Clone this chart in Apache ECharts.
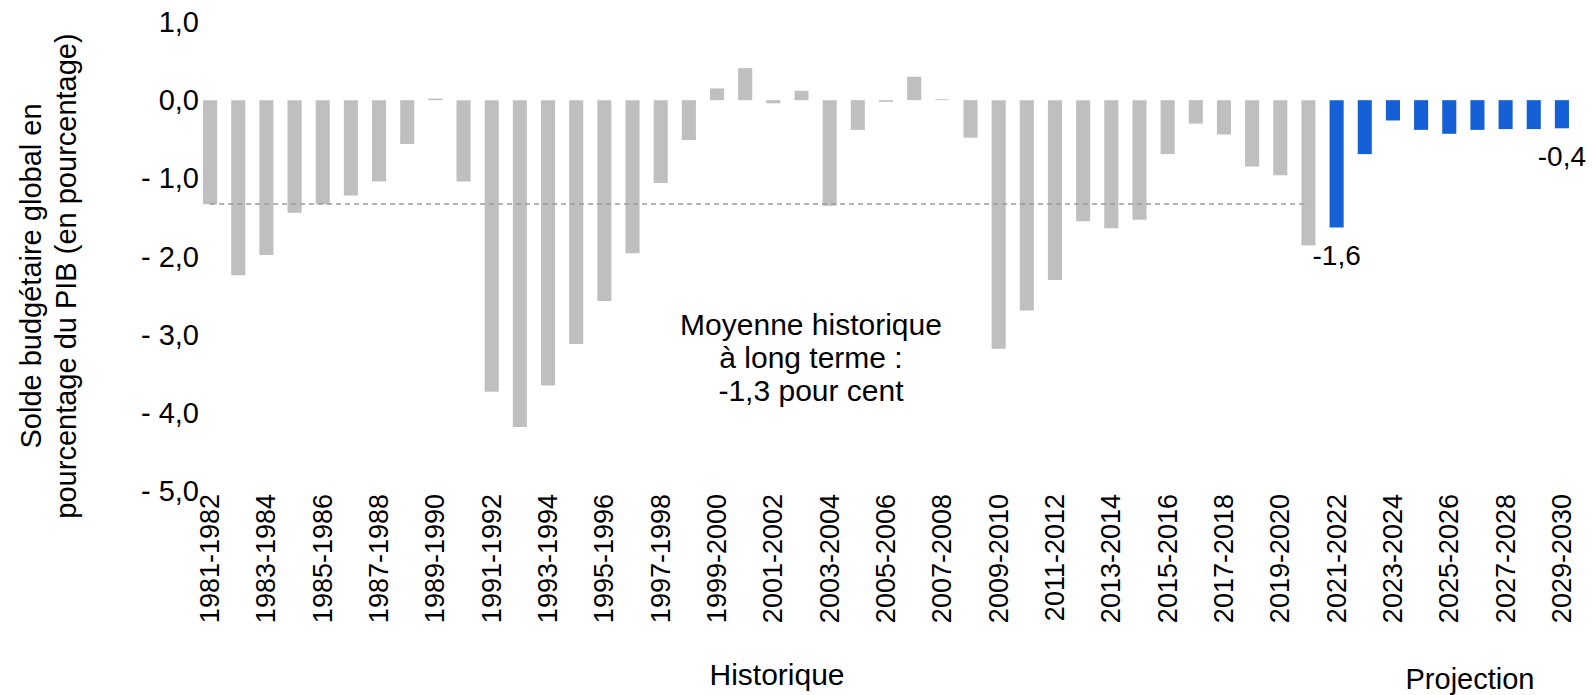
<!DOCTYPE html>
<html>
<head>
<meta charset="utf-8">
<script src="https://cdn.jsdelivr.net/npm/echarts@6/dist/echarts.min.js"></script>
<style>
  html, body { margin: 0; padding: 0; background: #fff; }
  #chart { width: 1593px; height: 695px; }
</style>
</head>
<body>
<div id="chart"></div>
<script>
var categories = [
  '1981-1982', '1982-1983', '1983-1984', '1984-1985', '1985-1986', '1986-1987', '1987-1988',
  '1988-1989', '1989-1990', '1990-1991', '1991-1992', '1992-1993', '1993-1994', '1994-1995',
  '1995-1996', '1996-1997', '1997-1998', '1998-1999', '1999-2000', '2000-2001', '2001-2002',
  '2002-2003', '2003-2004', '2004-2005', '2005-2006', '2006-2007', '2007-2008', '2008-2009',
  '2009-2010', '2010-2011', '2011-2012', '2012-2013', '2013-2014', '2014-2015', '2015-2016',
  '2016-2017', '2017-2018', '2018-2019', '2019-2020', '2020-2021', '2021-2022', '2022-2023',
  '2023-2024', '2024-2025', '2025-2026', '2026-2027', '2027-2028', '2028-2029', '2029-2030'
];

// historique 1981-1982 .. 2020-2021
var historique = [
  -1.33, -2.24, -1.98, -1.44, -1.33, -1.22, -1.04, -0.56, 0.02, -1.04,
  -3.73, -4.18, -3.65, -3.12, -2.57, -1.96, -1.06, -0.51, 0.15, 0.41,
  -0.04, 0.12, -1.35, -0.38, -0.02, 0.30, 0.01, -0.48, -3.18, -2.69,
  -2.30, -1.55, -1.64, -1.53, -0.69, -0.30, -0.44, -0.85, -0.96, -1.86
];

// projection 2021-2022 .. 2029-2030
var projection = [-1.63, -0.69, -0.26, -0.38, -0.43, -0.38, -0.37, -0.37, -0.36];

var labelled = ['2021-2022', '2029-2030'];
var moyenneHist = -1.33;

var yTicks = { min: -5, max: 1, step: 1 };

var gray = '#BFBFBF';
var blue = '#1560D6';
var font = "'Liberation Sans', Arial, sans-serif";

function fr(v) {
  return v.toFixed(1).replace('.', ',');
}

var nHist = historique.length;
var histData = categories.map(function(c, i) { return i < nHist ? historique[i] : null; });
var projData = categories.map(function(c, i) {
  if (i < nHist) return null;
  var v = projection[i - nHist];
  if (labelled.indexOf(c) >= 0) {
    return { value: v, label: { show: true } };
  }
  return v;
});

var chart = echarts.init(document.getElementById('chart'), null, { renderer: 'svg' });
chart.setOption({
  animation: false,
  textStyle: { fontFamily: font },
  grid: { left: 196, right: 17, top: 22, bottom: 204 },
  xAxis: {
    type: 'category',
    data: categories,
    axisLine: { show: false },
    axisTick: { show: false },
    axisLabel: { rotate: 90, interval: 1, color: '#000', fontSize: 27, fontFamily: font, margin: 3 }
  },
  yAxis: {
    type: 'value',
    min: yTicks.min,
    max: yTicks.max,
    interval: yTicks.step,
    axisLine: { show: false },
    axisTick: { show: false },
    splitLine: { show: false },
    axisLabel: {
      color: '#000', fontSize: 29, fontFamily: font, margin: -3,
      formatter: function(v) { return v < 0 ? '- ' + fr(-v) : fr(v); }
    }
  },
  series: [
    {
      name: 'Historique',
      type: 'bar',
      stack: 'solde',
      data: histData,
      barWidth: '50%',
      itemStyle: { color: gray },
      markLine: {
        silent: true,
        symbol: 'none',
        label: { show: false },
        lineStyle: { color: '#9A9A9A', type: [5, 4], width: 1.5 },
        data: [[
          { coord: [categories[0], moyenneHist] },
          { coord: [categories[nHist - 1], moyenneHist] }
        ]]
      }
    },
    {
      name: 'Projection',
      type: 'bar',
      stack: 'solde',
      data: projData,
      barWidth: '50%',
      itemStyle: { color: blue },
      label: {
        show: false,
        position: 'outside',
        distance: 14,
        color: '#000',
        fontSize: 28,
        fontFamily: font,
        formatter: function(p) { return fr(p.value); }
      }
    }
  ],
  graphic: [
    {
      type: 'text', x: 48, y: 276, rotation: Math.PI / 2,
      style: {
        text: 'Solde budgétaire global en\npourcentage du PIB (en pourcentage)',
        font: '29px ' + font, fill: '#000', align: 'center', verticalAlign: 'middle', lineHeight: 35
      }
    },
    {
      type: 'text', x: 811, y: 357,
      style: {
        text: 'Moyenne historique\nà long terme :\n-1,3 pour cent',
        font: '30px ' + font, fill: '#000', align: 'center', verticalAlign: 'middle', lineHeight: 33
      }
    },
    {
      type: 'text', x: 777, y: 674,
      style: { text: 'Historique', font: '30px ' + font, fill: '#000', align: 'center', verticalAlign: 'middle' }
    },
    {
      type: 'text', x: 1470, y: 679,
      style: { text: 'Projection', font: '29px ' + font, fill: '#000', align: 'center', verticalAlign: 'middle' }
    }
  ]
});
window.addEventListener('resize', function() { chart.resize(); });
</script>
</body>
</html>
